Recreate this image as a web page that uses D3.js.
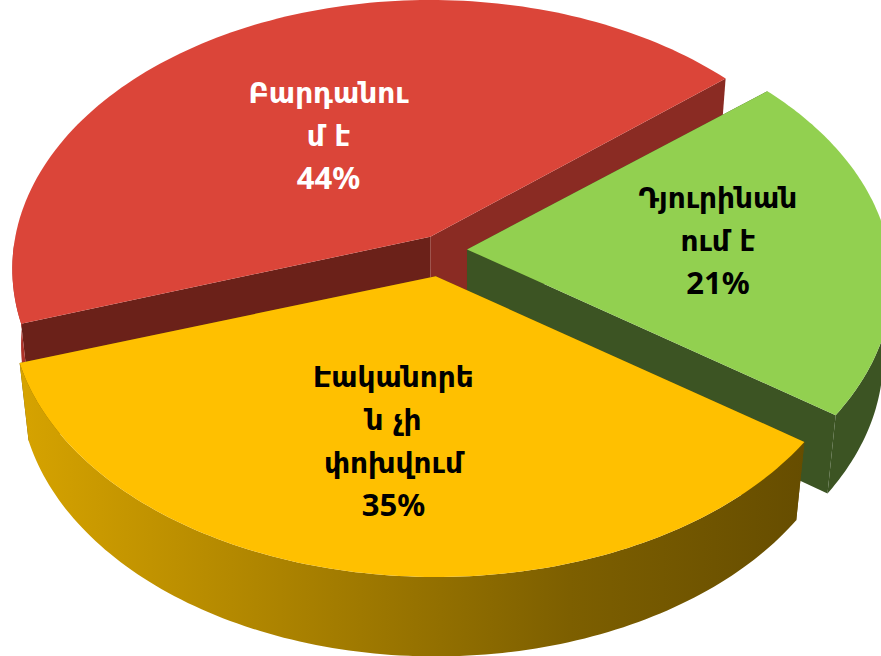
<!DOCTYPE html>
<html>
<head>
<meta charset="utf-8">
<script src="https://cdn.jsdelivr.net/npm/d3@7"></script>
<style>
  html, body { margin: 0; padding: 0; background: #fff; overflow: hidden; }
  svg { display: block; }
  text { font-family: "DejaVu Sans", sans-serif; font-weight: bold; }
  text.pct { font-family: "Noto Sans", "Open Sans", sans-serif; }
</style>
</head>
<body>
<svg id="chart"></svg>
<script>
const categories = ["Բարդանում է", "Դյուրինանում է", "Էականորեն չի փոխվում"];
const values = [44, 21, 35];
const labelLines = [
  ["Բարդանու", "մ է", "44%"],
  ["Դյուրինան", "ում է", "21%"],
  ["Էականորե", "ն չի", "փոխվում", "35%"],
];

const w = 881;
const h = 656;

const topColors = ["#db4539", "#92d050", "#ffc000"];
const rimColors = ["#ad3229", "#3c5423", "url(#yellowRim)"];
const startFaceColors = ["#6b2119", "#3c5423", "#664d00"];
const endFaceColors = ["#8a2b23", "#3c5423", "#664d00"];
const textColors = ["#ffffff", "#000000", "#000000"];
const explode = [24, 25, 42];
const labelNudge = [[9, 26], [7, -3], [-3, 2]];

// fake 3d: a = perspective strength, b = shrink of the lower face
const center = { x: 442, y: 250 };
const radiusX = [415, 422, 422];
const A = 265;
const Z = 78;
const a = 0.119;
const b = 0.021;
const labelRadius = 0.58;
const lineHeight = 43;

const svg = d3.select("#chart").attr("width", w).attr("height", h);

const gradient = svg
  .append("defs")
  .append("linearGradient")
  .attr("id", "yellowRim")
  .attr("gradientUnits", "userSpaceOnUse")
  .attr("x1", 20)
  .attr("x2", 806)
  .attr("y1", 0)
  .attr("y2", 0);
[
  ["0%", "#d6a300"],
  ["30%", "#b08600"],
  ["70%", "#7d5f00"],
  ["100%", "#664d00"],
].forEach((s) => gradient.append("stop").attr("offset", s[0]).attr("stop-color", s[1]));

const rad = (deg) => (deg * Math.PI) / 180;

const pie = d3
  .pie()
  .sort(null)
  .startAngle(rad(251.6))
  .endAngle(rad(251.6 + 360));

const slices = pie(values);

function project(apex, rx, r, angle, z) {
  const ux = r * Math.sin(angle);
  const uy = -r * Math.cos(angle);
  const s = 1 / (1 - a * uy + b * z);
  return [apex.x + rx * ux * s, apex.y + (A * uy + Z * z) * s];
}

function apexOf(d, i) {
  const mid = (d.startAngle + d.endAngle) / 2;
  return {
    x: center.x + explode[i] * Math.sin(mid),
    y: center.y - explode[i] * Math.cos(mid) * 0.63,
  };
}

const line = d3.line();

const g = svg.append("g");

slices.forEach((d, i) => {
  const apex = apexOf(d, i);
  const rx = radiusX[i];

  const angles = d3.range(0, 121).map((t) => d.startAngle + ((d.endAngle - d.startAngle) * t) / 120);
  const arcAt = (list, z) => list.map((t) => project(apex, rx, 1, t, z));
  // only the part of the rim that faces the viewer
  const front = angles.filter((t) => Math.cos(t) < 0);

  const slice = g.append("g").attr("class", "slice").attr("data-name", categories[i]);

  // radial faces
  [
    [d.startAngle, startFaceColors[i]],
    [d.endAngle, endFaceColors[i]],
  ].forEach((f) => {
    const pts = [
      project(apex, rx, 0, f[0], 0),
      project(apex, rx, 1, f[0], 0),
      project(apex, rx, 1, f[0], 1),
      project(apex, rx, 0, f[0], 1),
    ];
    slice.append("path").attr("d", line(pts) + "Z").attr("fill", f[1]);
  });

  // outer rim
  slice
    .append("path")
    .attr("d", line(arcAt(front, 0).concat(arcAt(front, 1).reverse())) + "Z")
    .attr("fill", rimColors[i]);

  // top
  slice
    .append("path")
    .attr("d", line([project(apex, rx, 0, 0, 0)].concat(arcAt(angles, 0))) + "Z")
    .attr("fill", topColors[i]);
});

// labels go on top of everything
slices.forEach((d, i) => {
  const mid = (d.startAngle + d.endAngle) / 2;
  const c = project(apexOf(d, i), radiusX[i], labelRadius, mid, 0);
  const lines = labelLines[i];
  g.append("g")
    .selectAll("text")
    .data(lines)
    .enter()
    .append("text")
    .attr("class", (l, j) => (j === lines.length - 1 ? "pct" : null))
    .attr("x", c[0] + labelNudge[i][0])
    .attr("y", (l, j) => c[1] + labelNudge[i][1] + (j - (lines.length - 1) / 2) * lineHeight + 10)
    .attr("text-anchor", "middle")
    .attr("font-size", (l, j) => (j === lines.length - 1 ? 31 : 28))
    .attr("fill", textColors[i])
    .text((l) => l);
});
</script>
</body>
</html>
